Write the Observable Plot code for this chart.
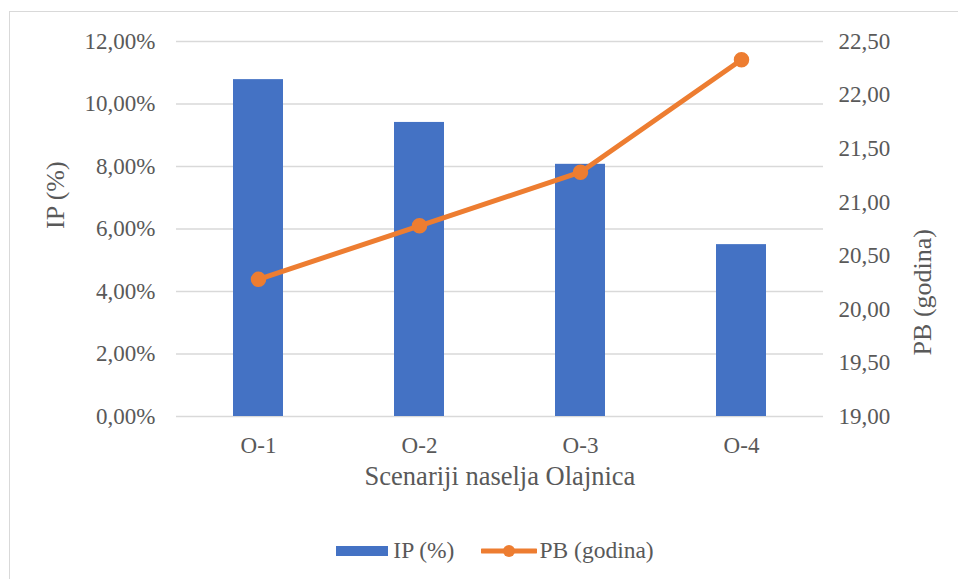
<!DOCTYPE html>
<html>
<head>
<meta charset="utf-8">
<script src="https://cdn.jsdelivr.net/npm/d3@7"></script>
<script src="https://cdn.jsdelivr.net/npm/@observablehq/plot@0.6"></script>
<style>
  html, body { margin: 0; padding: 0; background: #fff; }
  #wrap { position: relative; width: 958px; height: 579px; overflow: hidden; font-family: "Liberation Serif", "DejaVu Serif", serif; color: #595959; }
  #frame { position: absolute; left: 9px; top: 11px; width: 1000px; height: 600px; border: 1.5px solid #d9d9d9; box-sizing: border-box; }
  #chart { position: absolute; left: 0; top: 0; }
  #legend { position: absolute; top: 537px; left: 16px; width: 958px; display: flex; justify-content: center; align-items: center; font-size: 23.5px; color: #595959; font-family: "Liberation Serif", "DejaVu Serif", serif; }
  .item { display: flex; align-items: center; }
</style>
</head>
<body>
<div id="wrap">
  <div id="frame"></div>
  <div id="chart"></div>
  <div id="legend"></div>
</div>
<script>
const categories = ["O-1", "O-2", "O-3", "O-4"];
const ipValues = [0.1078, 0.0941, 0.0807, 0.0550];
const pbValues = [20.28, 20.78, 21.28, 22.33];
const ipTicks = [0, 0.02, 0.04, 0.06, 0.08, 0.10, 0.12];
const pbTicks = [19.0, 19.5, 20.0, 20.5, 21.0, 21.5, 22.0, 22.5];
const seriesNames = ["IP (%)", "PB (godina)"];
const xTitle = "Scenariji naselja Olajnica";

const blue = "#4472c4", orange = "#ed7d31", grid = "#d9d9d9", ink = "#595959";
const serif = "'Liberation Serif', 'DejaVu Serif', serif";
const ipMax = 0.12, pbMin = 19.0, pbMax = 22.5;
const pbToY = v => (v - pbMin) / (pbMax - pbMin) * ipMax;
const yToPb = y => pbMin + y / ipMax * (pbMax - pbMin);

const rows = categories.map((c, i) => ({cat: c, ip: ipValues[i], pb: pbValues[i], pbY: pbToY(pbValues[i])}));
const fmtPct = d => (d * 100).toFixed(2).replace(".", ",") + "%";
const fmtPb = d => yToPb(d).toFixed(2).replace(".", ",");

const chart = Plot.plot({
  width: 958,
  height: 579,
  marginLeft: 176,
  marginRight: 135,
  marginTop: 41,
  marginBottom: 163,
  style: {fontFamily: serif, fontSize: "23px", color: ink, background: "transparent", overflow: "visible"},
  x: {domain: categories, paddingInner: 0.69, paddingOuter: 0.345, label: null},
  y: {domain: [0, ipMax], label: null},
  marks: [
    Plot.ruleY(ipTicks, {stroke: grid, strokeWidth: 1.5}),
    Plot.barY(rows, {x: "cat", y: "ip", fill: blue}),
    Plot.lineY(rows, {x: "cat", y: "pbY", stroke: orange, strokeWidth: 5, curve: "linear"}),
    Plot.dot(rows, {x: "cat", y: "pbY", r: 7, fill: orange, stroke: orange}),
    Plot.axisY(ipTicks, {anchor: "left", tickSize: 0, tickPadding: 21, tickFormat: fmtPct, label: null, fill: ink, fontFamily: serif}),
    Plot.axisY(pbTicks.map(pbToY), {anchor: "right", tickSize: 0, tickPadding: 15, tickFormat: fmtPb, label: null, fill: ink, fontFamily: serif}),
    Plot.axisX({tickSize: 0, tickPadding: 20, label: null, fill: ink, fontFamily: serif}),
    Plot.text([seriesNames[0]], {frameAnchor: "left", dx: -121, rotate: -90, fontSize: 26, fill: ink, fontFamily: serif}),
    Plot.text([seriesNames[1]], {frameAnchor: "right", dx: 99, rotate: -90, fontSize: 26, fill: ink, fontFamily: serif}),
    Plot.text([xTitle], {frameAnchor: "bottom", dy: 68, fontSize: 26.5, fill: ink, fontFamily: serif})
  ]
});
document.getElementById("chart").appendChild(chart);

// Legend
const legend = document.getElementById("legend");
legend.innerHTML = `
  <div class="item"><svg width="52" height="12"><rect x="0" y="1" width="52" height="10" fill="${blue}"/></svg><span style="margin-left:5px">${seriesNames[0]}</span></div>
  <div class="item" style="margin-left:27px"><svg width="56" height="16"><line x1="1" y1="8" x2="55" y2="8" stroke="${orange}" stroke-width="5" stroke-linecap="round"/><circle cx="28" cy="8" r="6" fill="${orange}"/></svg><span style="margin-left:2px">${seriesNames[1]}</span></div>
`;
</script>
</body>
</html>
